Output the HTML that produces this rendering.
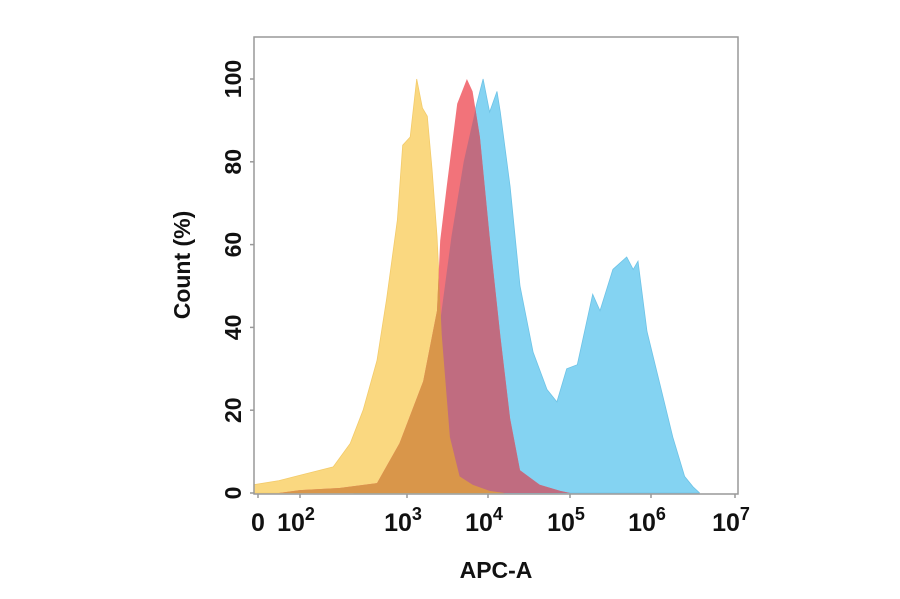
<!DOCTYPE html>
<html><head><meta charset="utf-8"><style>
body{margin:0;background:#fff;width:900px;height:594px;overflow:hidden}
svg text{font-family:"Liberation Sans",Arial,sans-serif;font-weight:bold;fill:#111}
</style></head><body>
<svg id="chart" width="900" height="594" viewBox="0 0 900 594" xmlns="http://www.w3.org/2000/svg">
<defs></defs>
<g id="marks"></g>
<g id="axes"></g>
</svg>
<script>
// x values in log10 decades (1 = "0" position), y in %
const yellowX=[0.9,1.5,2.0,2.31,2.47,2.59,2.72,2.81,2.91,2.96,3.04,3.12,3.19,3.25,3.31,3.37,3.43,3.53,3.65,3.81,4.02,4.2];
const yellowY=[2,3,4.3,6.3,12,20,32,47,66,84,86,100,93,91,78,62,38,13.5,4,2,0.5,0];
const redX=[1.5,2.0,2.37,2.72,2.93,3.2,3.37,3.41,3.49,3.62,3.74,3.81,3.9,4.02,4.15,4.27,4.39,4.63,4.88,5.0];
const redY=[0,0.7,1.2,2.4,12,27,44,61,74,94,100,97,86,62,38,18,5.5,2,0.5,0];
const blueX=[2.5,2.9,3.2,3.4,3.55,3.7,3.86,3.94,4.02,4.11,4.15,4.27,4.39,4.55,4.72,4.84,4.96,5.09,5.28,5.37,5.53,5.7,5.78,5.84,5.95,6.11,6.26,6.4,6.5,6.58];
const blueY=[0,3,15,40,62,80,94,100,92,97,92,74,50,34,25,22,30,31,48,44,54,57,54,56,39,26,13.5,4,1.5,0];
const yTicks=[0,20,40,60,80,100];
const xTickVals=[1,2,3,4,5,6,7];
const xTickExp=["","2","3","4","5","6","7"];

const NS="http://www.w3.org/2000/svg";
const L=254,R=738,T=37,B=494;
const xKnots=[[1,258],[2,300],[3,407],[4,488],[5,570],[6,651],[7,735]];
function xs(v){
  if(v<=1) return 258+(v-1)*42;
  for(let i=0;i<xKnots.length-1;i++){const a=xKnots[i],b=xKnots[i+1];
    if(v<=b[0]) return a[1]+(v-a[0])/(b[0]-a[0])*(b[1]-a[1]);}
  return 735+(v-7)*84;
}
function ys(p){return 493-p*4.14;}
function pathOf(xa,ya){
  let d="M"+xs(xa[0])+","+ys(0);
  for(let i=0;i<xa.length;i++) d+=" L"+xs(xa[i]).toFixed(1)+","+ys(ya[i]).toFixed(1);
  d+=" L"+xs(xa[xa.length-1])+","+ys(0)+" Z";return d;
}
const svg=document.getElementById('chart'),defs=svg.querySelector('defs'),marks=document.getElementById('marks'),axes=document.getElementById('axes');
function mk(tag,attrs,parent){const e=document.createElementNS(NS,tag);for(const k in attrs)e.setAttribute(k,attrs[k]);parent.appendChild(e);return e;}
const dB=pathOf(blueX,blueY),dY=pathOf(yellowX,yellowY),dR=pathOf(redX,redY);
const cb=mk('clipPath',{id:'clipBlue'},defs);mk('path',{d:dB},cb);
const cy=mk('clipPath',{id:'clipYellow'},defs);mk('path',{d:dY},cy);
let e;
e=mk('path',{d:dB,fill:'#84D3F2',stroke:'#6EC3E6','stroke-width':0.8},marks);


e=mk('path',{d:dY,fill:'#FAD880',stroke:'#F3CB6A','stroke-width':0.8},marks);


e=mk('path',{d:dR,fill:'#F2737A'},marks);


e=mk('path',{d:dR,fill:'#C06C80','clip-path':'url(#clipBlue)'},marks);


e=mk('path',{d:dR,fill:'#D9964A','clip-path':'url(#clipYellow)'},marks);


e=mk('rect',{x:L,y:T,width:R-L,height:B-T,fill:'none',stroke:'#999','stroke-width':1.5},axes);


yTicks.forEach(t=>{
  const y=ys(t);
  let tk=mk('line',{x1:L-4,x2:L,y1:y,y2:y,stroke:'#999','stroke-width':1.5},axes);
  
  
  const tx=mk('text',{x:0,y:0,'font-size':23,'text-anchor':'middle',transform:`translate(241,${y}) rotate(-90)`},axes);
  tx.textContent=t;
  
  
});
xTickVals.forEach((v,i)=>{
  const x=xs(v);
  let tk=mk('line',{x1:x,x2:x,y1:B,y2:B+4,stroke:'#999','stroke-width':1.5},axes);
  
  
  const tx=mk('text',{x:x,y:531,'font-size':25,'text-anchor':'middle'},axes);
  if(v===1){tx.textContent='0';}
  else{tx.setAttribute('x',x-4);tx.textContent='10';const s=mk('tspan',{'font-size':18,dy:-11},tx);s.textContent=xTickExp[i];}
  
  
});
e=mk('text',{x:496,y:578,'font-size':23,'text-anchor':'middle'},axes);e.textContent='APC-A';


e=mk('text',{x:0,y:0,'font-size':23,'text-anchor':'middle',transform:'translate(190,265) rotate(-90)','xml:space':'preserve'},axes);e.textContent='Count  (%)';


</script>
</body></html>
